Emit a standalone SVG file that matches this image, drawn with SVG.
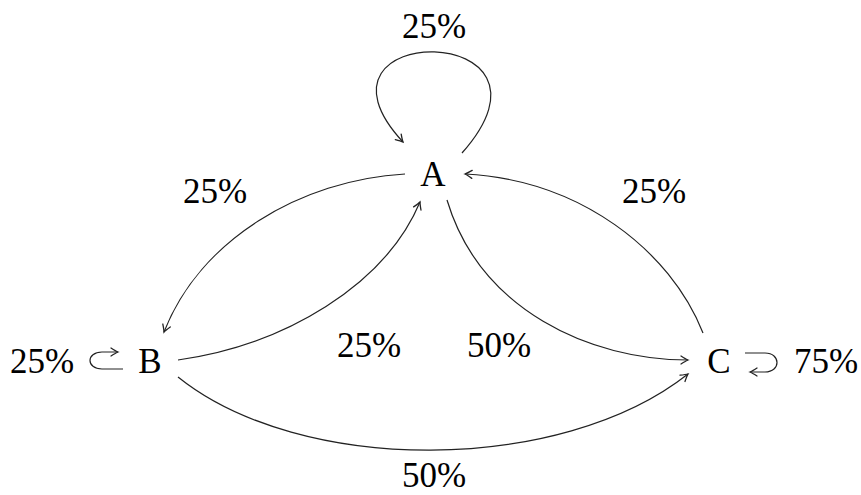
<svg xmlns="http://www.w3.org/2000/svg" width="861" height="495" viewBox="0 0 861 495">
<defs>
<style>
text{font-family:"Liberation Serif","DejaVu Serif",serif;font-size:35px;fill:#000;text-anchor:middle}
.e{fill:none;stroke:#222;stroke-width:1.2;marker-end:url(#ah)}
</style>
<marker id="ah" markerUnits="userSpaceOnUse" viewBox="-10 -6 12 12" markerWidth="12" markerHeight="12" refX="0" refY="0" orient="auto">
<path d="M-7,-4 Q-2,-0.8 0,0 Q-2,0.8 -7,4" fill="none" stroke="#222" stroke-width="1.3" stroke-linecap="round"/>
</marker>
</defs>
<rect width="861" height="495" fill="#fff"/>
<g id="connectors">
<path class="e" d="M462,153 C580,20 290,20 403,142"/>
<path class="e" d="M405,174 C300,180 200,240 164,332"/>
<path class="e" d="M178,360 C285,345 385,285 420,202"/>
<path class="e" d="M447,200 C480,310 590,360 688,360"/>
<path class="e" d="M703,333 C670,250 580,180 465,174"/>
<path class="e" d="M178,377 C300,475 560,475 688,374"/>
<path class="e" d="M123,369 L102,369 C86,369 86,352 102,352 L118,352"/>
<path class="e" d="M745,353 L765,353 C781,353 781,372 765,372 L750,372"/>
</g>
<g id="edge-labels">
<text x="434" y="38">25%</text>
<text x="215" y="203">25%</text>
<text x="654" y="203">25%</text>
<text x="369" y="357">25%</text>
<text x="499" y="357">50%</text>
<text x="42" y="373">25%</text>
<text x="826" y="373">75%</text>
<text x="434" y="487">50%</text>
</g>
<g id="A"><text x="433" y="186">A</text></g>
<g id="B"><text x="150" y="373">B</text></g>
<g id="C"><text x="719" y="373">C</text></g>
</svg>
